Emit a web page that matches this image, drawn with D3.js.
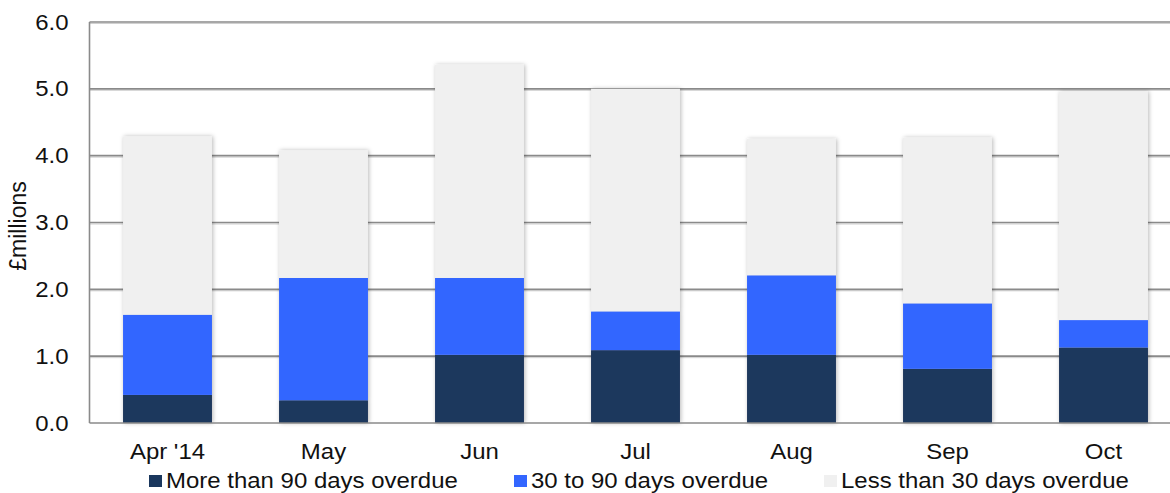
<!DOCTYPE html>
<html>
<head>
<meta charset="utf-8">
<script src="https://cdn.jsdelivr.net/npm/d3@7"></script>
<style>
  html, body { margin: 0; padding: 0; background: #fff; }
  svg { display: block; font-family: "Liberation Sans", Arial, sans-serif; }
</style>
</head>
<body>
<svg id="chart" width="1170" height="493"></svg>
<script>
// Overdue debt by month, £ millions
const months = ["Apr '14", "May", "Jun", "Jul", "Aug", "Sep", "Oct"];
const over90 = [0.42, 0.34, 1.02, 1.09, 1.02, 0.81, 1.13];
const days30to90 = [1.20, 1.83, 1.15, 0.58, 1.19, 0.98, 0.41];
const under30 = [2.67, 1.91, 3.19, 3.33, 2.04, 2.48, 3.42];
const seriesNames = ["More than 90 days overdue", "30 to 90 days overdue", "Less than 30 days overdue"];
const seriesKeys = ["over90", "d30to90", "under30"];
const seriesColors = ["#1a375d", "#3366ff", "#f0f0f0"];
const yTicks = [0, 1, 2, 3, 4, 5, 6];

const rows = months.map((m, i) => ({
  month: m, over90: over90[i], d30to90: days30to90[i], under30: under30[i]
}));

const svg = d3.select("#chart");
const plotLeft = 89.5, plotTop = 22, plotBottom = 423;
const step = 156;
const textStretch = 1.09; // slightly wide lettering

const x = d3.scaleBand()
  .domain(months)
  .range([plotLeft, plotLeft + step * months.length])
  .paddingInner(0.43)
  .paddingOuter(0.215);

const y = d3.scaleLinear().domain([0, 6]).range([plotBottom, plotTop]);

const defs = svg.append("defs");
const f = defs.append("filter").attr("id", "barShadow")
  .attr("x", "-10%").attr("y", "-5%").attr("width", "120%").attr("height", "110%");
f.append("feDropShadow").attr("dx", 1).attr("dy", 0)
  .attr("stdDeviation", 2).attr("flood-color", "#000").attr("flood-opacity", 0.28);

// gridlines with a soft lighter line beneath
const grid = svg.append("g");
grid.selectAll("line.shade").data(yTicks.slice(1)).join("line")
  .attr("class", "shade")
  .attr("x1", plotLeft).attr("x2", 1170)
  .attr("y1", d => y(d) + 1.5).attr("y2", d => y(d) + 1.5)
  .attr("stroke", "#d0d0d0").attr("stroke-width", 1);
grid.selectAll("line.main").data(yTicks.slice(1)).join("line")
  .attr("class", "main")
  .attr("x1", plotLeft).attr("x2", 1170)
  .attr("y1", d => y(d)).attr("y2", d => y(d))
  .attr("stroke", "#8a8a8a").attr("stroke-width", 1.6);

// stacked bars
const stack = d3.stack().keys(seriesKeys)(rows);
const barsG = svg.append("g");
rows.forEach((r, i) => {
  const g = barsG.append("g").attr("filter", "url(#barShadow)");
  stack.forEach((layer, k) => {
    const d = layer[i];
    g.append("rect")
      .attr("x", x(r.month))
      .attr("width", x.bandwidth())
      .attr("y", y(d[1]))
      .attr("height", y(d[0]) - y(d[1]))
      .attr("fill", seriesColors[k]);
  });
});

// axis lines
svg.append("line")
  .attr("x1", plotLeft).attr("x2", plotLeft).attr("y1", plotTop).attr("y2", plotBottom)
  .attr("stroke", "#8a8a8a").attr("stroke-width", 1.6);
svg.append("line")
  .attr("x1", plotLeft).attr("x2", 1170).attr("y1", plotBottom).attr("y2", plotBottom)
  .attr("stroke", "#8a8a8a").attr("stroke-width", 1.6);

// y tick labels
const yAxis = d3.axisLeft(y).tickValues(yTicks).tickFormat(d3.format(".1f")).tickSize(0).tickPadding(21);
const ya = svg.append("g").attr("transform", `translate(${plotLeft},0)`).call(yAxis);
ya.select(".domain").remove();
ya.selectAll("text").attr("font-size", 22).attr("fill", "#111")
  .attr("font-family", "Liberation Sans, Arial, sans-serif")
  .attr("x", 0)
  .attr("transform", `translate(-21,0) scale(${textStretch},1)`);

// x tick labels
const xAxis = d3.axisBottom(x).tickSize(0).tickPadding(20);
const xa = svg.append("g").attr("transform", `translate(0,${plotBottom})`).call(xAxis);
xa.select(".domain").remove();
xa.selectAll("text").attr("font-size", 22).attr("fill", "#111")
  .attr("font-family", "Liberation Sans, Arial, sans-serif")
  .attr("transform", `scale(${textStretch},1)`);

// y axis title
svg.append("text")
  .attr("transform", "translate(26,226) rotate(-90)")
  .attr("text-anchor", "middle")
  .attr("font-size", 23).attr("fill", "#111")
  .text("£millions");

// legend
const legendX = [149, 514, 824];
const lg = svg.append("g");
seriesNames.forEach((name, k) => {
  lg.append("rect").attr("x", legendX[k]).attr("y", 475)
    .attr("width", 13).attr("height", 12).attr("fill", seriesColors[k]);
  lg.append("text")
    .attr("transform", `translate(${legendX[k] + 17},488) scale(${textStretch},1)`)
    .attr("font-size", 22).attr("fill", "#111").text(name);
});
</script>
</body>
</html>
